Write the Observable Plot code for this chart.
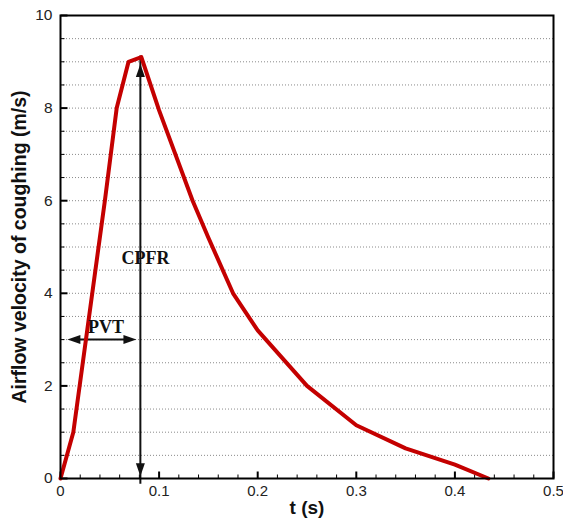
<!DOCTYPE html>
<html>
<head>
<meta charset="utf-8">
<script src="https://cdn.jsdelivr.net/npm/d3@7"></script>
<script src="https://cdn.jsdelivr.net/npm/@observablehq/plot@0.6"></script>
<style>
  html, body { margin: 0; padding: 0; background: #fff; }
  svg { display: block; }
</style>
</head>
<body>
<div id="chart"></div>
<script>
// Curve data: time (s) and airflow velocity (m/s)
const tValues = [0, 0.013, 0.045, 0.057, 0.069, 0.082, 0.1, 0.134, 0.15, 0.175, 0.2, 0.25, 0.3, 0.35, 0.4, 0.434];
const vValues = [0, 1.0, 6.0, 8.0, 9.0, 9.1, 7.95, 6.0, 5.2, 4.0, 3.2, 2.0, 1.15, 0.65, 0.3, 0];

// Tick values
const xMajorTicks = [0, 0.1, 0.2, 0.3, 0.4, 0.5];
const xTickLabels = ["0", "0.1", "0.2", "0.3", "0.4", "0.5"];
const xMinorTicks = [0.02, 0.04, 0.06, 0.08, 0.12, 0.14, 0.16, 0.18, 0.22, 0.24, 0.26, 0.28, 0.32, 0.34, 0.36, 0.38, 0.42, 0.44, 0.46, 0.48];
const yMajorTicks = [0, 2, 4, 6, 8, 10];
const yTickLabels = ["0", "2", "4", "6", "8", "10"];
const yMinorTicks = [0.5, 1, 1.5, 2.5, 3, 3.5, 4.5, 5, 5.5, 6.5, 7, 7.5, 8.5, 9, 9.5];
const gridLevels = [0.5, 1, 1.5, 2, 2.5, 3, 3.5, 4, 4.5, 5, 5.5, 6, 6.5, 7, 7.5, 8, 8.5, 9, 9.5];

// Annotations
const cpfrT = 0.081, cpfrV0 = 0.05, cpfrV1 = 8.95;
const pvtV = 3.0, pvtT0 = 0.007, pvtT1 = 0.077;
const annotationTexts = ["PVT", "CPFR"];
const annotationT = [0.0462, 0.0863];
const annotationV = [3.27, 4.75];

const curve = tValues.map((t, i) => ({t, v: vValues[i]}));

// custom symbols: arrowhead with tip at origin pointing up; tick marks
const headSymbol = {
  draw(ctx) { ctx.moveTo(0, 0); ctx.lineTo(4.5, 13); ctx.lineTo(-4.5, 13); ctx.closePath(); }
};
const tickUp = (len) => ({ draw(ctx) { ctx.moveTo(0, 0); ctx.lineTo(0, -len); } });
const tickRight = (len) => ({ draw(ctx) { ctx.moveTo(0, 0); ctx.lineTo(len, 0); } });

const tickFont = "'Liberation Sans', Arial, sans-serif";

const chart = Plot.plot({
  width: 563,
  height: 520,
  marginLeft: 60,
  marginRight: 10,
  marginTop: 15,
  marginBottom: 42,
  style: { fontFamily: tickFont, background: "#fff" },
  x: { domain: [0, 0.5], axis: null },
  y: { domain: [0, 10], axis: null },
  marks: [
    Plot.ruleY(gridLevels, { stroke: "#8a8a8a", strokeWidth: 1, strokeDasharray: "1,2" }),
    // inward ticks
    Plot.dot(xMajorTicks, { x: d => d, frameAnchor: "bottom", symbol: tickUp(7), stroke: "#000", strokeWidth: 2, fill: "none" }),
    Plot.dot(xMinorTicks, { x: d => d, frameAnchor: "bottom", symbol: tickUp(4), stroke: "#000", strokeWidth: 1, fill: "none" }),
    Plot.dot(yMajorTicks, { y: d => d, frameAnchor: "left", symbol: tickRight(7), stroke: "#000", strokeWidth: 2, fill: "none" }),
    Plot.dot(yMinorTicks, { y: d => d, frameAnchor: "left", symbol: tickRight(4), stroke: "#000", strokeWidth: 1, fill: "none" }),
    // tick labels
    Plot.text(xMajorTicks, { x: d => d, frameAnchor: "bottom", dy: 13, lineAnchor: "middle", textAnchor: "middle", text: (d, i) => xTickLabels[i], fontSize: 15, fill: "#222" }),
    Plot.text(yMajorTicks, { y: d => d, frameAnchor: "left", dx: -8, textAnchor: "end", lineAnchor: "middle", text: (d, i) => yTickLabels[i], fontSize: 15.5, fill: "#222" }),
    // axis titles
    Plot.text(["t (s)"], { frameAnchor: "bottom", dy: 29, lineAnchor: "middle", textAnchor: "middle", fontSize: 19, fontWeight: "bold", fill: "#111" }),
    Plot.text(["Airflow velocity of coughing (m/s)"], { frameAnchor: "left", dx: -41, rotate: -90, textAnchor: "middle", lineAnchor: "middle", fontSize: 19.5, fontWeight: "bold", fill: "#111" }),
    // CPFR vertical arrow
    Plot.ruleX([cpfrT], { y1: cpfrV0, y2: cpfrV1, stroke: "#111", strokeWidth: 2, insetTop: 8, insetBottom: 8 }),
    Plot.dot([{t: cpfrT, v: cpfrV1, r: 0}, {t: cpfrT, v: cpfrV0, r: 180}], { x: "t", y: "v", rotate: "r", symbol: headSymbol, fill: "#111", stroke: "none" }),
    // PVT horizontal double arrow
    Plot.ruleY([pvtV], { x1: pvtT0, x2: pvtT1, stroke: "#111", strokeWidth: 2, insetLeft: 8, insetRight: 8 }),
    Plot.dot([{t: pvtT0, v: pvtV, r: -90}, {t: pvtT1, v: pvtV, r: 90}], { x: "t", y: "v", rotate: "r", symbol: headSymbol, fill: "#111", stroke: "none" }),
    // curve
    Plot.line(curve, { x: "t", y: "v", stroke: "#c40000", strokeWidth: 4, strokeLinejoin: "round" }),
    // annotation labels
    Plot.text(annotationTexts, { x: (d, i) => annotationT[i], y: (d, i) => annotationV[i], textAnchor: (d, i) => i === 0 ? "middle" : "start",
      fontFamily: "'Liberation Serif', 'Times New Roman', serif", fontWeight: "bold", fontSize: 18, fill: "#111" }),
    Plot.frame({ stroke: "#000", strokeWidth: 2 })
  ]
});
document.getElementById("chart").appendChild(chart);
</script>
</body>
</html>
